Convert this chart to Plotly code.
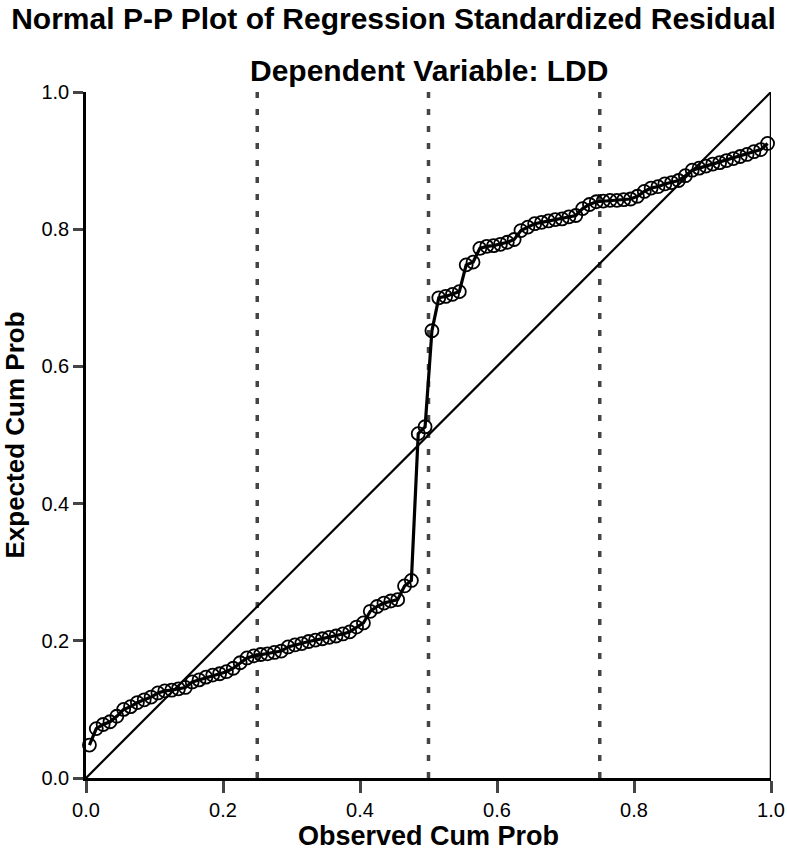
import plotly.graph_objects as go

observed = [0.005, 0.015, 0.025, 0.035, 0.045, 0.055, 0.065, 0.075, 0.085, 0.095,
            0.105, 0.115, 0.125, 0.135, 0.145, 0.155, 0.165, 0.175, 0.185, 0.195,
            0.205, 0.215, 0.225, 0.235, 0.245, 0.255, 0.265, 0.275, 0.285, 0.295,
            0.305, 0.315, 0.325, 0.335, 0.345, 0.355, 0.365, 0.375, 0.385, 0.395,
            0.405, 0.415, 0.425, 0.435, 0.445, 0.455, 0.465, 0.475, 0.485, 0.495,
            0.505, 0.515, 0.525, 0.535, 0.545, 0.555, 0.565, 0.575, 0.585, 0.595,
            0.605, 0.615, 0.625, 0.635, 0.645, 0.655, 0.665, 0.675, 0.685, 0.695,
            0.705, 0.715, 0.725, 0.735, 0.745, 0.755, 0.765, 0.775, 0.785, 0.795,
            0.805, 0.815, 0.825, 0.835, 0.845, 0.855, 0.865, 0.875, 0.885, 0.895,
            0.905, 0.915, 0.925, 0.935, 0.945, 0.955, 0.965, 0.975, 0.985, 0.995]

expected = [0.048, 0.072, 0.078, 0.082, 0.090, 0.100, 0.104, 0.110, 0.114, 0.118,
            0.124, 0.127, 0.128, 0.130, 0.132, 0.140, 0.143, 0.147, 0.150, 0.152,
            0.155, 0.160, 0.168, 0.175, 0.178, 0.180, 0.181, 0.183, 0.185, 0.191,
            0.194, 0.196, 0.199, 0.201, 0.203, 0.205, 0.207, 0.210, 0.213, 0.220,
            0.226, 0.243, 0.250, 0.255, 0.258, 0.260, 0.280, 0.288, 0.502, 0.512,
            0.652, 0.700, 0.702, 0.705, 0.709, 0.748, 0.752, 0.772, 0.775, 0.776,
            0.778, 0.781, 0.785, 0.798, 0.803, 0.808, 0.810, 0.812, 0.814, 0.815,
            0.818, 0.820, 0.830, 0.836, 0.840, 0.841, 0.842, 0.842, 0.843, 0.844,
            0.848, 0.855, 0.860, 0.862, 0.866, 0.868, 0.871, 0.878, 0.886, 0.889,
            0.892, 0.895, 0.897, 0.900, 0.903, 0.906, 0.909, 0.913, 0.916, 0.925]

ref_lines = [0.25, 0.5, 0.75]
ticks = [0.0, 0.2, 0.4, 0.6, 0.8, 1.0]
tick_labels = ["0.0", "0.2", "0.4", "0.6", "0.8", "1.0"]

FONT = "Liberation Sans, Arial, sans-serif"

fig = go.Figure()

fig.add_trace(go.Scatter(x=[0, 1], y=[0, 1], mode="lines",
                         line=dict(color="black", width=2.2), hoverinfo="skip",
                         showlegend=False, cliponaxis=False))

fig.add_trace(go.Scatter(x=observed, y=expected, mode="lines+markers",
                         line=dict(color="black", width=3.2),
                         marker=dict(symbol="circle-open", size=13, color="black",
                                     line=dict(width=1.8, color="black")),
                         showlegend=False, cliponaxis=False))

for v in ref_lines:
    fig.add_shape(type="line", xref="x", yref="y", x0=v, x1=v, y0=0, y1=1,
                  line=dict(color="#444444", width=3.5, dash="6px,11px"), layer="below")

fig.add_shape(type="line", xref="x", yref="y", x0=1, x1=1, y0=0, y1=1,
              line=dict(color="black", width=2.5))

fig.update_layout(
    width=787, height=859,
    margin=dict(l=86, r=16, t=92, b=81),
    paper_bgcolor="white", plot_bgcolor="white",
    font=dict(family=FONT, color="black"),
    title=dict(text="<b>Normal P-P Plot of Regression Standardized Residual</b>",
               x=0.5, xanchor="center", y=1 - 18 / 859, yanchor="middle",
               font=dict(size=30, family=FONT)),
    annotations=[dict(text="<b>Dependent Variable: LDD</b>", xref="paper", yref="paper",
                      x=0.5, y=1, yshift=22, yanchor="middle", showarrow=False,
                      xanchor="center", font=dict(size=30, family=FONT))],
    xaxis=dict(range=[0, 1], tickvals=ticks, ticktext=tick_labels, automargin=False,
               showgrid=False, zeroline=False, showline=True, linecolor="black",
               linewidth=2.5, ticks="outside", ticklen=12, tickwidth=2.5,
               tickfont=dict(size=20),
               title=dict(text="<b>Observed Cum Prob</b>", font=dict(size=27),
                          standoff=6)),
    yaxis=dict(range=[0, 1], tickvals=ticks, ticktext=tick_labels, automargin=False,
               showgrid=False, zeroline=False, showline=True, linecolor="black",
               linewidth=2.5, ticks="outside", ticklen=10, tickwidth=2.5,
               tickfont=dict(size=20),
               title=dict(text="<b>Expected Cum Prob</b>", font=dict(size=26),
                          standoff=14)),
)

fig.write_html("out.html", config={"displayModeBar": False},
               post_script="document.body.style.margin='0px';")
